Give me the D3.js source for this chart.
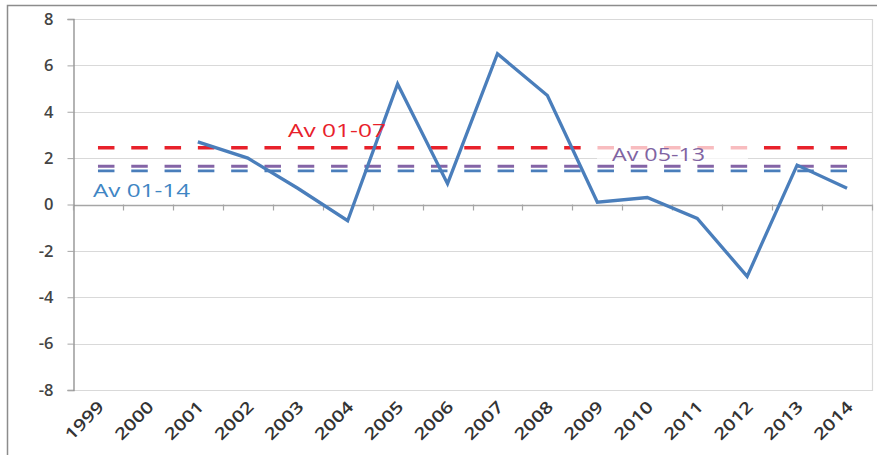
<!DOCTYPE html>
<html><head><meta charset="utf-8">
<script src="https://cdn.jsdelivr.net/npm/d3@7"></script>
<style>body{margin:0;background:#fff;overflow:hidden}</style>
</head><body>
<svg id="c" width="877" height="455"></svg>
<script>
const years = ["1999","2000","2001","2002","2003","2004","2005","2006","2007","2008","2009","2010","2011","2012","2013","2014"];
const growth = [null, null, 2.7, 2.0, 0.7, -0.7, 5.2, 0.9, 6.5, 4.7, 0.1, 0.3, -0.6, -3.1, 1.7, 0.7];
const avLabels = ["Av 01-07", "Av 05-13", "Av 01-14"];
const avValues = [2.45, 1.65, 1.45];
const yTicks = [-8, -6, -4, -2, 0, 2, 4, 6, 8];

const avColors = ["#E8212B", "#8464A6", "#4A7EBB"];
const avTextColors = ["#E8212B", "#8064A2", "#3F86C4"];
const font = "'Open Sans', 'DejaVu Sans', sans-serif";

const svg = d3.select("#c");
const L = 73, R = 872, T = 19, B = 390;
const x = d3.scaleBand().domain(years).range([L, R]);
const y = d3.scaleLinear().domain([-8, 8]).range([B, T]);
const cx = d => x(d) + x.bandwidth() / 2;

// outer chart border
svg.append("rect").attr("x", 7.5).attr("y", 5.5).attr("width", 900).attr("height", 500)
  .attr("fill", "#fff").attr("stroke", "#8c8c8c").attr("stroke-width", 1.5);

// gridlines
svg.append("g").selectAll("line").data(yTicks).join("line")
  .attr("x1", L).attr("x2", R).attr("y1", d => Math.round(y(d)) + 0.5).attr("y2", d => Math.round(y(d)) + 0.5)
  .attr("stroke", d => d === 0 ? "#a6a6a6" : "#d9d9d9").attr("stroke-width", d => d === 0 ? 1.3 : 1.2);
// right border of plot
svg.append("line").attr("x1", R + 0.5).attr("x2", R + 0.5).attr("y1", T).attr("y2", B + 1)
  .attr("stroke", "#d9d9d9").attr("stroke-width", 1.2);

// y axis
const yAxis = svg.append("g").attr("transform", `translate(${L + 0.5},0)`)
  .call(d3.axisLeft(y).tickValues(yTicks).tickSize(6).tickPadding(14).tickFormat(d3.format("d")));
yAxis.select(".domain").attr("stroke", "#8c8c8c").attr("stroke-width", 1.3);
yAxis.selectAll(".tick line").attr("stroke", "#a6a6a6");
yAxis.selectAll(".tick text").attr("font-family", font).attr("font-size", 16.5).attr("font-weight", 600)
  .attr("fill", "#444").text(d => d < 0 ? "-" + Math.abs(d) : d);

// x axis at zero (ticks at category boundaries)
const bounds = d3.range(years.length + 1).map(i => L + i * x.bandwidth());
svg.append("g").selectAll("line").data(bounds).join("line")
  .attr("x1", d => Math.round(d) + 0.5).attr("x2", d => Math.round(d) + 0.5)
  .attr("y1", y(0)).attr("y2", y(0) + 6).attr("stroke", "#a6a6a6").attr("stroke-width", 1.2);

// x labels rotated
svg.append("g").selectAll("text").data(years).join("text")
  .attr("transform", d => `translate(${cx(d) + 7},${B + 18}) rotate(-45)`)
  .attr("text-anchor", "end").attr("font-family", font).attr("font-size", 16.5).attr("font-weight", 600)
  .attr("fill", "#333")
  .attr("textLength", 47).attr("lengthAdjust", "spacingAndGlyphs")
  .text(d => d);

// average dashed lines
const xs = cx(years[0]), xe = cx(years[years.length - 1]);
const avWidths = [3.5, 2.8, 2.8];
svg.append("g").selectAll("line").data(avValues).join("line")
  .attr("x1", xs).attr("x2", xe).attr("y1", d => y(d)).attr("y2", d => y(d))
  .attr("stroke", (d, i) => avColors[i]).attr("stroke-width", (d, i) => avWidths[i])
  .attr("stroke-dasharray", "16.5,16.8");

// data line
const line = d3.line().defined(d => d[1] !== null).x(d => cx(d[0])).y(d => y(d[1]));
svg.append("path").datum(years.map((yr, i) => [yr, growth[i]]))
  .attr("d", line).attr("fill", "none").attr("stroke", "#4A7EBB").attr("stroke-width", 3.3)
  .attr("stroke-linejoin", "miter");

// Av 05-13 label box
svg.append("rect").attr("x", 597).attr("y", 142).attr("width", 151).attr("height", 22)
  .attr("fill", "#fff").attr("fill-opacity", 0.7);
const labelPos = [[288, 137, 98], [612, 161, 93], [93, 197, 97]];
svg.append("g").selectAll("text").data(avLabels).join("text")
  .attr("x", (d, i) => labelPos[i][0]).attr("y", (d, i) => labelPos[i][1])
  .attr("font-family", font).attr("font-size", 19).attr("fill", (d, i) => avTextColors[i])
  .attr("textLength", (d, i) => labelPos[i][2]).attr("lengthAdjust", "spacingAndGlyphs")
  .text(d => d);
</script>
</body></html>
